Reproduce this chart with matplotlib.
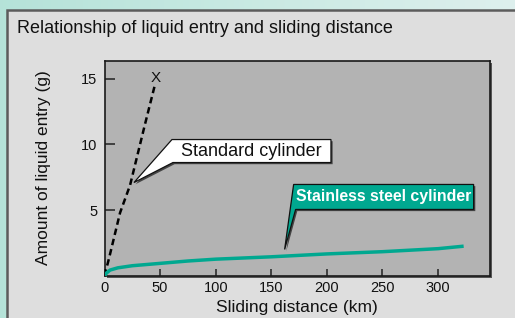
import numpy as np
import matplotlib
matplotlib.use("Agg")
import matplotlib.pyplot as plt
from matplotlib import font_manager
from matplotlib.patches import Rectangle, Polygon
import matplotlib.patheffects as pe

# ---------------- data ----------------
title = "Relationship of liquid entry and sliding distance"
x_label = "Sliding distance (km)"
y_label = "Amount of liquid entry (g)"

standard_x = [0, 4, 14, 23, 36, 45.5]
standard_y = [0, 1.3, 4.8, 6.9, 11.4, 14.6]
standard_end = (46.3, 15.1)          # "X" failure mark

stainless_x = [0, 2, 5, 12, 25, 50, 75, 100, 150, 200, 250, 300, 323]
stainless_y = [0, 0.22, 0.43, 0.6, 0.76, 0.94, 1.12, 1.26, 1.44, 1.66, 1.83, 2.06, 2.25]

x_ticks = [0, 50, 100, 150, 200, 250, 300]
y_ticks = [5, 10, 15]

standard_label = "Standard cylinder"
standard_anchor = (26.5, 7.1)
stainless_label = "Stainless steel cylinder"
stainless_anchor = (162, 2.0)

# ---------------- style ----------------
W, H = 515, 318
DPI = 100
TEAL = "#00a890"
plt.rcParams['font.family'] = ['Liberation Sans', 'DejaVu Sans']

names = {f.name for f in font_manager.fontManager.ttflist}
if 'Liberation Sans Narrow' in names:
    narrow_family = ['Liberation Sans Narrow', 'Liberation Sans']
    narrow_size = 13
else:
    narrow_family = ['Liberation Sans', 'DejaVu Sans']
    narrow_size = 11.4

fig = plt.figure(figsize=(W / DPI, H / DPI), dpi=DPI)

def fx(px):
    return px / W

def fy(py):
    return 1 - py / H

# background gradient
bg = fig.add_axes([0, 0, 1, 1], zorder=-10)
grad = np.linspace(0, 1, 256)
c0 = np.array([0.71, 0.89, 0.85])
c1 = np.array([0.87, 0.94, 0.93])
img = (c0[None, :] * (1 - grad[:, None]) + c1[None, :] * grad[:, None])[None, :, :]
bg.imshow(img, aspect='auto', extent=[0, 1, 0, 1])
bg.set_xlim(0, 1)
bg.set_ylim(0, 1)
bg.axis('off')

# inner panel
panel = Rectangle((fx(7), fy(330)), fx(530), fy(9.5) - fy(330), transform=fig.transFigure,
                  facecolor="#dedede", edgecolor="#5c5c5c", linewidth=1.8, zorder=-5)
fig.patches.append(panel)

fig.text(fx(17), fy(33), title, fontsize=13, ha='left', va='baseline', color='#111111')

# main axes
L, R, T, B = 104.5, 490, 60.5, 275.7
ax = fig.add_axes([fx(L), fy(B), fx(R - L), fy(T) - fy(B)])
ax.set_facecolor("#b3b3b3")
ax.set_xlim(0, 346.7)
ax.set_ylim(0, 16.4)
for s in ax.spines.values():
    s.set_color("#1a1a1a")
    s.set_linewidth(1.2)
ax.patch.set_path_effects([pe.SimplePatchShadow(offset=(1.5, -1.5), shadow_rgbFace='#555555', alpha=1),
                           pe.Normal()])

ax.set_xticks(x_ticks)
ax.set_yticks(y_ticks)
ax.tick_params(axis='x', direction='in', length=5.3, width=1.1, color='#222222',
               labelsize=10.5, pad=4, labelcolor='#111111')
ax.tick_params(axis='y', direction='in', length=7.2, width=1.1, color='#222222',
               labelsize=10.5, pad=5, labelcolor='#111111')

ax.set_xlabel(x_label, fontsize=12.5, color='#111111')
ax.set_ylabel(y_label, fontsize=12.5, color='#111111')
ax.xaxis.label.set_va('center')
ax.yaxis.label.set_va('center')
ax.xaxis.set_label_coords(0.5, -0.150)
ax.yaxis.set_label_coords(-0.157, 0.5)

# series
ax.plot(standard_x, standard_y, color='black', linewidth=1.8, dashes=(2.6, 1.6),
        solid_capstyle='butt', dash_capstyle='butt', zorder=3)
ax.text(standard_end[0], standard_end[1], "X", fontsize=11, ha='center', va='center',
        color='#111111', zorder=4)
ax.plot(stainless_x, stainless_y, color=TEAL, linewidth=2.5, solid_capstyle='butt', zorder=3)

# callouts (offsets in pixels from anchor, y downwards)
def callout(anchor, offsets, text, face, tcolor, family, size, weight):
    px, py = ax.transData.transform(anchor)
    pts = [(px, py)] + [(px + dx, py - dy) for dx, dy in offsets]
    poly = Polygon(pts, closed=True, transform=None, facecolor=face, edgecolor='#111111',
                   linewidth=0.9, zorder=5,
                   path_effects=[pe.SimplePatchShadow(offset=(1.2, -1.2),
                                                      shadow_rgbFace='#444444', alpha=1),
                                 pe.Normal()])
    fig.patches.append(poly)
    cx = px + (offsets[0][0] + offsets[1][0]) / 2
    cy = py - (offsets[0][1] + offsets[2][1]) / 2
    fig.text(cx / W, cy / H, text, ha='center', va='center', fontsize=size,
             color=tcolor, family=family, fontweight=weight, zorder=6)

fig.canvas.draw()
callout(standard_anchor, [(38, -43), (197, -43), (197, -20), (39, -20)],
        standard_label, 'white', '#111111', ['Liberation Sans', 'DejaVu Sans'], 13, 'normal')
callout(stainless_anchor, [(9, -65), (189, -65), (189, -40), (11, -40)],
        stainless_label, TEAL, 'white', narrow_family, narrow_size, 'bold')

fig.savefig("out.png", dpi=DPI)
